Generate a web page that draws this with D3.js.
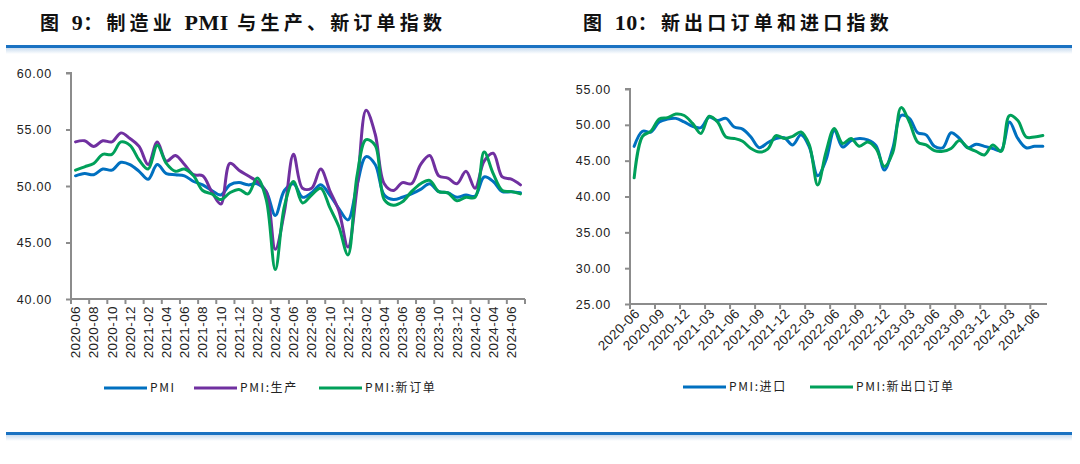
<!DOCTYPE html>
<html><head><meta charset="utf-8">
<script src="https://cdn.jsdelivr.net/npm/d3@7/dist/d3.min.js"></script>
<style>
html,body{margin:0;padding:0;background:#fff;}
svg{display:block;}
</style></head>
<body>
<svg id="c" width="1080" height="464"></svg>
<script>
// ---------- data ----------
const months = [
 "2020-06","2020-07","2020-08","2020-09","2020-10","2020-11","2020-12",
 "2021-01","2021-02","2021-03","2021-04","2021-05","2021-06","2021-07","2021-08","2021-09","2021-10","2021-11","2021-12",
 "2022-01","2022-02","2022-03","2022-04","2022-05","2022-06","2022-07","2022-08","2022-09","2022-10","2022-11","2022-12",
 "2023-01","2023-02","2023-03","2023-04","2023-05","2023-06","2023-07","2023-08","2023-09","2023-10","2023-11","2023-12",
 "2024-01","2024-02","2024-03","2024-04","2024-05","2024-06","2024-07"];
const pmi = [50.9,51.1,51.0,51.5,51.4,52.1,51.9,
 51.3,50.6,51.9,51.1,51.0,50.9,50.4,50.1,49.6,49.2,50.1,50.3,
 50.1,50.2,49.5,47.4,49.6,50.2,49.0,49.4,50.1,49.2,48.0,47.0,
 50.1,52.6,51.9,49.2,48.8,49.0,49.3,49.7,50.2,49.5,49.4,49.0,
 49.2,49.1,50.8,50.4,49.5,49.5,49.4];
const production = [53.9,54.0,53.5,54.0,53.9,54.7,54.2,
 53.5,51.9,53.9,52.2,52.7,51.9,51.0,50.9,49.5,48.4,52.0,51.4,
 50.9,50.4,49.5,44.4,47.7,52.8,49.8,49.8,51.5,49.6,47.8,44.6,
 49.8,56.7,54.6,50.2,49.6,50.3,50.2,51.9,52.7,50.9,50.7,50.2,
 51.3,49.8,52.2,52.9,50.8,50.6,50.1];
const newOrders = [51.4,51.7,52.0,52.8,52.8,53.9,53.6,
 52.3,51.5,53.6,52.0,51.3,51.5,50.9,49.6,49.3,48.8,49.4,49.7,
 49.3,50.7,48.8,42.6,48.2,50.4,48.5,49.2,49.8,48.1,46.4,43.9,
 50.9,54.1,53.6,48.8,48.3,48.6,49.5,50.2,50.5,49.5,49.4,48.7,
 49.0,49.0,53.0,51.1,49.6,49.5,49.3];
const imports = [47.0,49.1,49.0,50.4,50.8,50.9,50.4,
 49.8,49.6,51.1,50.6,50.9,49.7,49.4,48.3,46.8,47.5,48.1,48.2,
 47.2,48.6,46.9,42.9,45.1,49.2,46.9,47.8,48.1,47.9,47.1,43.7,
 46.7,51.3,50.9,48.9,48.6,47.0,46.8,48.9,48.1,46.8,47.3,47.0,
 46.7,46.4,50.4,48.1,46.8,47.0,47.0];
const newExportOrders = [42.6,48.4,49.1,50.8,51.0,51.5,51.3,
 50.2,48.8,51.2,50.4,48.3,48.1,47.7,46.7,46.2,46.6,48.5,48.1,
 48.4,49.0,47.2,41.6,46.2,49.5,47.4,48.1,47.0,47.6,46.7,44.2,
 46.1,52.4,50.4,47.6,47.2,46.4,46.3,46.7,47.8,46.8,46.3,45.8,
 47.2,46.3,51.3,50.6,48.3,48.3,48.5];
const leftTicks = [40,45,50,55,60];
const rightTicks = [25,30,35,40,45,50,55];
const leftTitle = ["图 ","9","：制造业 ","PMI"," 与生产、新订单指数"];
const rightTitle = ["图 ","10","：新出口订单和进口指数"];
const leftSeries = [
  {name:"PMI", values:pmi, color:"#0070C0"},
  {name:"PMI:生产", values:production, color:"#7030A0"},
  {name:"PMI:新订单", values:newOrders, color:"#00A05A"}];
const rightSeries = [
  {name:"PMI:进口", values:imports, color:"#0070C0"},
  {name:"PMI:新出口订单", values:newExportOrders, color:"#00A05A"}];

// ---------- drawing ----------
const svg = d3.select("#c");
const cjk = "'Noto Sans CJK SC','Noto Sans',sans-serif";
const serifLatin = "'Liberation Serif','DejaVu Serif',serif";

// header / footer rules
const defs = svg.append("defs");
const grad = defs.append("linearGradient").attr("id","shadow").attr("x1",0).attr("y1",0).attr("x2",0).attr("y2",1);
grad.append("stop").attr("offset","0%").attr("stop-color","#c9dcef");
grad.append("stop").attr("offset","100%").attr("stop-color","#ffffff");
function rule(y){
  svg.append("rect").attr("x",6).attr("y",y+3).attr("width",1066).attr("height",6).attr("fill","url(#shadow)");
  svg.append("rect").attr("x",6).attr("y",y).attr("width",1066).attr("height",3).attr("fill","#1a72c2");
}
rule(45);
rule(432);

function title(parts, x){
  const t = svg.append("text").attr("x",x).attr("y",30).attr("font-size",20).attr("font-weight","bold").attr("fill","#111");
  parts.forEach(p=>{
    const latin = /^[0-9A-Za-z]+$/.test(p);
    t.append("tspan").text(p).attr("font-family", latin ? serifLatin : cjk)
      .attr("font-size", latin ? 22 : 19)
      .attr("font-weight", latin ? "bold" : 600)
      .attr("letter-spacing", latin ? 0.5 : 4.2);
  });
}
title(leftTitle, 40);
title(rightTitle, 583);

function chart(cfg){
  const g = svg.append("g");
  const x = d3.scaleBand().domain(months).range([cfg.x0, cfg.x1]).paddingInner(0).paddingOuter(0);
  const y = d3.scaleLinear().domain([cfg.ticks[0], cfg.ticks[cfg.ticks.length-1]]).range([cfg.yb, cfg.yt]);
  const axisColor = "#8c8c8c";
  // lines
  const line = d3.line().x((d,i)=>x(months[i])+x.bandwidth()/2).y(d=>y(d)).curve(d3.curveCatmullRom.alpha(0.5));
  cfg.series.forEach(s=>{
    g.append("path").attr("d",line(s.values)).attr("fill","none").attr("stroke",s.color)
      .attr("stroke-width",3).attr("stroke-linejoin","round").attr("stroke-linecap","round");
  });
  // y axis
  const yAxis = d3.axisLeft(y).tickValues(cfg.ticks).tickSize(5).tickPadding(cfg.yPad).tickFormat(d3.format(".2f"));
  const ya = g.append("g").attr("transform",`translate(${cfg.x0},0)`).call(yAxis);
  ya.select(".domain").attr("stroke",axisColor).attr("stroke-width",2).attr("d",`M-5,${cfg.yt}H0V${cfg.yb}`);
  ya.selectAll(".tick line").attr("stroke",axisColor).attr("stroke-width",2);
  ya.selectAll(".tick text").attr("font-family","'Liberation Sans',Arial,sans-serif").attr("font-size",12.5)
    .attr("fill","#222").attr("letter-spacing","0.8");
  // x axis
  const xg = g.append("g");
  xg.append("line").attr("x1",cfg.x0-1).attr("x2",cfg.x1).attr("y1",cfg.yb).attr("y2",cfg.yb).attr("stroke",axisColor).attr("stroke-width",2);
  const bnds = d3.range(0, months.length+1, cfg.step).filter(i=>i<=months.length);
  if (cfg.endTick && bnds[bnds.length-1]!==months.length) bnds.push(months.length);
  bnds.forEach(i=>{
    const bx = cfg.x0 + i*x.bandwidth();
    xg.append("line").attr("x1",bx).attr("x2",bx).attr("y1",cfg.yb).attr("y2",cfg.yb+5).attr("stroke",axisColor).attr("stroke-width",2);
  });
  months.forEach((m,i)=>{
    if (i % cfg.step !== 0) return;
    const cx = x(m)+x.bandwidth()/2;
    const ty = cfg.yb + cfg.labelGap;
    xg.append("text").text(m).attr("text-anchor","end")
      .attr("font-family","'Liberation Sans',Arial,sans-serif").attr("font-size",13.5).attr("fill","#222")
      .attr("letter-spacing","0.4")
      .attr("transform",`translate(${cx+cfg.labelDx},${ty}) rotate(${cfg.rot})`)
      .attr("dy","0.35em");
  });
  // legend
  cfg.series.forEach((s,k)=>{
    const lxs = cfg.legPos[k];
    g.append("line").attr("x1",lxs).attr("x2",lxs+43).attr("y1",cfg.legY).attr("y2",cfg.legY).attr("stroke",s.color).attr("stroke-width",3);
    g.append("text").text(s.name).attr("x",lxs+46).attr("y",cfg.legY).attr("dy","0.36em")
      .attr("font-family",cjk).attr("font-size",12).attr("letter-spacing","1.6").attr("fill","#222");
  });
}

chart({x0:71, x1:525, yt:73, yb:299, ticks:leftTicks, series:leftSeries, step:2, endTick:true, yPad:14,
  rot:-90, labelGap:7, labelDx:0, legY:388, legPos:[104,194,319]});
chart({x0:630, x1:1047, yt:89, yb:304, ticks:rightTicks, series:rightSeries, step:3, endTick:false, yPad:14,
  rot:-45, labelGap:7, labelDx:3, legY:387, legPos:[683,810]});
</script>
</body></html>
